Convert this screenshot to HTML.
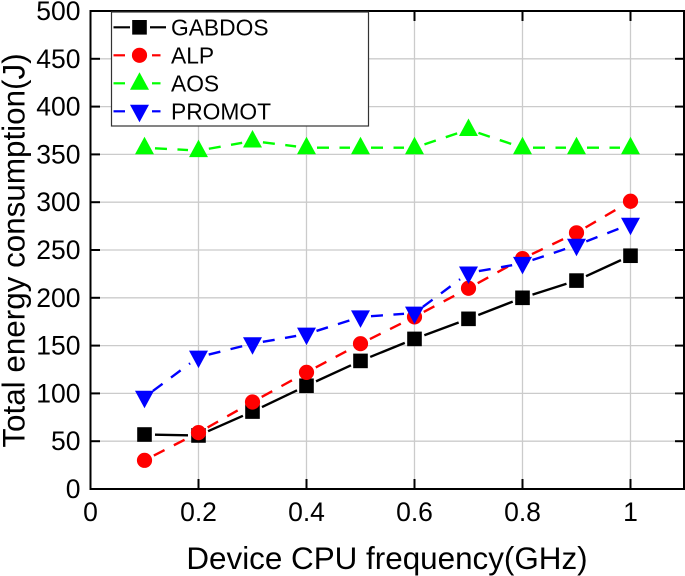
<!DOCTYPE html>
<html>
<head>
<meta charset="utf-8">
<style>
html,body{margin:0;padding:0;background:#fff;width:685px;height:576px;overflow:hidden}
svg{display:block;font-family:"Liberation Sans",sans-serif}
</style>
</head>
<body>
<svg id="chart" width="685" height="576" viewBox="0 0 685 576" xmlns="http://www.w3.org/2000/svg"></svg>
<script>
const frequencies = [0.1,0.2,0.3,0.4,0.5,0.6,0.7,0.8,0.9,1.0];
const gabdosValues = [57,56,81,108,134,157,178,200,218,244];
const alpValues = [30,59,91,122,152,180,210,241,268,301];
const aosValues = [357,354,364,357,357,357,376,357,357,357];
const promotValues = [96,138,152,162,180,184,226,236,255,277];
const seriesNames = ['GABDOS','ALP','AOS','PROMOT'];
const xTickValues = [0,0.2,0.4,0.6,0.8,1];
const yTickValues = [0,50,100,150,200,250,300,350,400,450,500];

const svg = document.getElementById('chart');
const NS = 'http://www.w3.org/2000/svg';
const sx = v => 90.5 + v * 540;
const sy = v => 489 - v * 0.956;
const styles = [
  {color:'#000000', dash:'', marker:'square'},
  {color:'#ff0000', dash:'12 10.5', marker:'circle'},
  {color:'#00ff00', dash:'12 10.5', marker:'up'},
  {color:'#0000ff', dash:'12 10.5', marker:'down'}
];
function add(parent, tag, attrs, text){
  const e = document.createElementNS(NS, tag);
  for (const k in attrs) e.setAttribute(k, attrs[k]);
  if (text !== undefined) e.textContent = text;
  parent.appendChild(e);
  return e;
}
function drawMarker(parent, kind, x, y, color){
  if (kind === 'square') return add(parent,'rect',{x:x-7.3,y:y-7.3,width:14.6,height:14.6,fill:color});
  if (kind === 'circle') return add(parent,'circle',{cx:x,cy:y,r:7.6,fill:color});
  if (kind === 'up') return add(parent,'polygon',{points:`${x-9.5},${y+6.5} ${x+9.5},${y+6.5} ${x},${y-11}`,fill:color});
  return add(parent,'polygon',{points:`${x-9.5},${y-6.5} ${x+9.5},${y-6.5} ${x},${y+11}`,fill:color});
}

const bg = add(svg,'rect',{x:0,y:0,width:685,height:576,fill:'#ffffff'});



const grid = add(svg,'g',{stroke:'#cbcbcb','stroke-width':1.3,fill:'none'});


xTickValues.slice(1).forEach(v => add(grid,'line',{x1:sx(v),x2:sx(v),y1:11,y2:489}));
yTickValues.slice(1,-1).forEach(v => add(grid,'line',{x1:90.5,x2:684,y1:sy(v),y2:sy(v)}));

const axes = add(svg,'g',{stroke:'#000000','stroke-width':2,fill:'none'});


add(axes,'rect',{x:90.5,y:11,width:593.5,height:478});
yTickValues.slice(1,-1).forEach(v => {
  add(axes,'line',{x1:90.5,x2:100,y1:sy(v),y2:sy(v)});
  add(axes,'line',{x1:675,x2:684,y1:sy(v),y2:sy(v)});
});
xTickValues.slice(1).forEach(v => {
  add(axes,'line',{x1:sx(v),x2:sx(v),y1:489,y2:479});
  add(axes,'line',{x1:sx(v),x2:sx(v),y1:11,y2:21});
});

const xTicks = add(svg,'g',{'font-size':26.5,'text-anchor':'middle',fill:'#000'});


xTickValues.forEach(v => add(xTicks,'text',{x:sx(v),y:521},String(v)));

const yTicks = add(svg,'g',{'font-size':26.5,'text-anchor':'end',fill:'#000'});


yTickValues.forEach(v => add(yTicks,'text',{x:80.5,y:sy(v)+9},String(v)));

const xTitle = add(svg,'text',{x:387,y:569,'font-size':31.4,'text-anchor':'middle',fill:'#000'},'Device CPU frequency(GHz)');


const yTitle = add(svg,'text',{x:0,y:0,'font-size':31.4,'text-anchor':'middle',fill:'#000',transform:'translate(24.5,250.5) rotate(-90)'},'Total energy consumption(J)');



const allValues = [gabdosValues, alpValues, aosValues, promotValues];
allValues.forEach((vals, si) => {
  const st = styles[si];
  const g = add(svg,'g',{});
  
  
  const pts = vals.map((v,i) => [sx(frequencies[i]), sy(v)]);
  for (let i = 0; i < pts.length - 1; i++){
    const [x1,y1] = pts[i], [x2,y2] = pts[i+1];
    const len = Math.hypot(x2-x1,y2-y1), gap = 10.5;
    if (len <= gap*2) continue;
    const ux = (x2-x1)/len, uy = (y2-y1)/len;
    const attrs = {x1:x1+ux*gap,y1:y1+uy*gap,x2:x2-ux*gap,y2:y2-uy*gap,stroke:st.color,'stroke-width':2.4};
    if (st.dash) attrs['stroke-dasharray'] = st.dash;
    add(g,'line',attrs);
  }
  pts.forEach(p => drawMarker(g, st.marker, p[0], p[1], st.color));
});

const legend = add(svg,'g',{});


add(legend,'rect',{x:111.5,y:12,width:257,height:114,fill:'#ffffff',stroke:'#333333','stroke-width':1.2});
seriesNames.forEach((name,i) => {
  const st = styles[i];
  const y = 27.3 + i * 28;
  const entry = add(legend,'g',{});
  
  
  const end = i === 0 ? 166 : 160.5;
  add(entry,'line',{x1:113.5,x2:i === 0 ? 130 : 125,y1:y,y2:y,stroke:st.color,'stroke-width':2.2});
  add(entry,'line',{x1:i === 0 ? 150 : 152,x2:end,y1:y,y2:y,stroke:st.color,'stroke-width':2.2});
  drawMarker(entry, st.marker, 139.5, y, st.color);
  add(entry,'text',{x:171,y:y+8,'font-size':22.8,fill:'#000'},name);
});
</script>
</body>
</html>
